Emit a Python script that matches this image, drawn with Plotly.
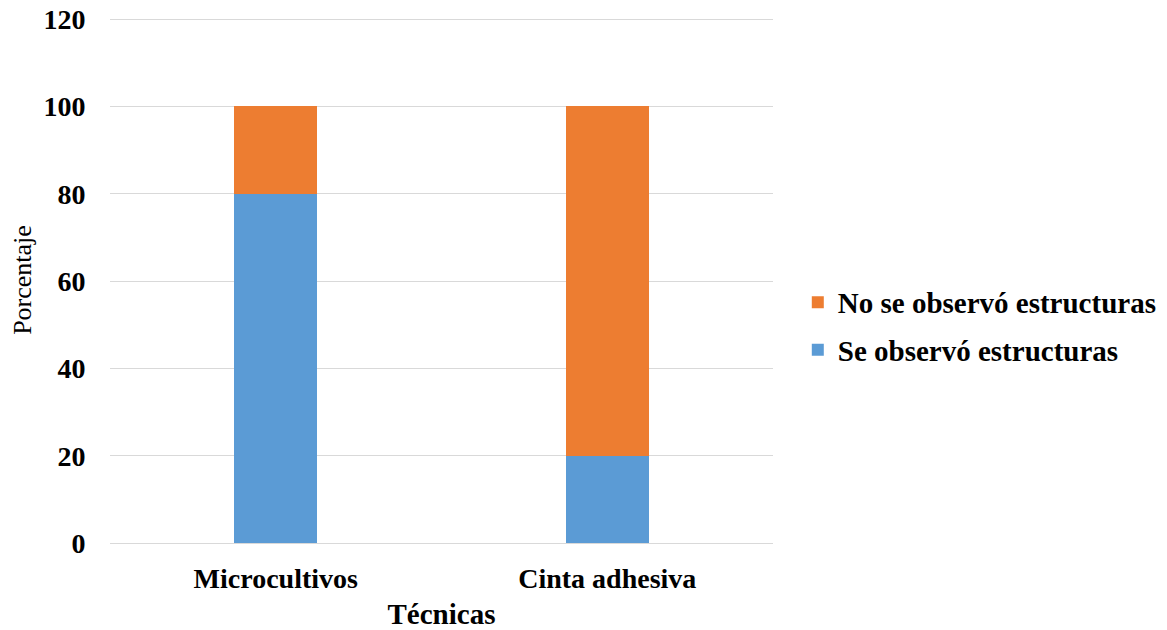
import plotly.graph_objects as go

categorias = ["Microcultivos", "Cinta adhesiva"]
se_observo = [80, 20]
no_se_observo = [20, 80]
y_ticks = [0, 20, 40, 60, 80, 100, 120]

FONT = "Liberation Serif"

fig = go.Figure()
fig.add_trace(go.Bar(
    x=categorias, y=se_observo, name="Se observó estructuras",
    marker=dict(color="#5B9BD5", line=dict(width=0)), legendgroup="a", legendrank=2,
))
fig.add_trace(go.Bar(
    x=categorias, y=no_se_observo, name="No se observó estructuras",
    marker=dict(color="#ED7D31", line=dict(width=0)), legendgroup="b", legendrank=1,
))

fig.update_layout(
    barmode="stack",
    bargap=0.75,
    width=1167, height=630,
    margin=dict(l=110, r=394, t=17, b=87, autoexpand=False),
    plot_bgcolor="white", paper_bgcolor="white",
    font=dict(family=FONT, color="black", size=28),
    showlegend=True,
    legend=dict(
        x=1.0374, xanchor="left", y=0.412, yanchor="middle",
        traceorder="grouped", tracegroupgap=7,
        font=dict(family=FONT, size=29, color="black", weight="bold"),
        itemwidth=30,
    ),
    xaxis=dict(
        showgrid=False, showline=True, linecolor="#D9D9D9", linewidth=1,
        automargin=False,
        tickfont=dict(family=FONT, size=28, color="black", weight="bold"),
        ticks="outside", ticklen=10, tickcolor="rgba(0,0,0,0)",
        title=dict(text="Técnicas", font=dict(family=FONT, size=29, color="black", weight="bold"), standoff=12),
    ),
    yaxis=dict(
        range=[0, 120.5], tickvals=y_ticks, showgrid=True, gridcolor="#D9D9D9", gridwidth=1,
        zeroline=False, showline=False, automargin=False,
        tickfont=dict(family=FONT, size=28, color="black", weight="bold"),
        ticks="outside", ticklen=18, tickcolor="rgba(0,0,0,0)",
        title=dict(text="Porcentaje", font=dict(family=FONT, size=26, color="black"), standoff=4),
    ),
)

fig.write_html("out.html")
